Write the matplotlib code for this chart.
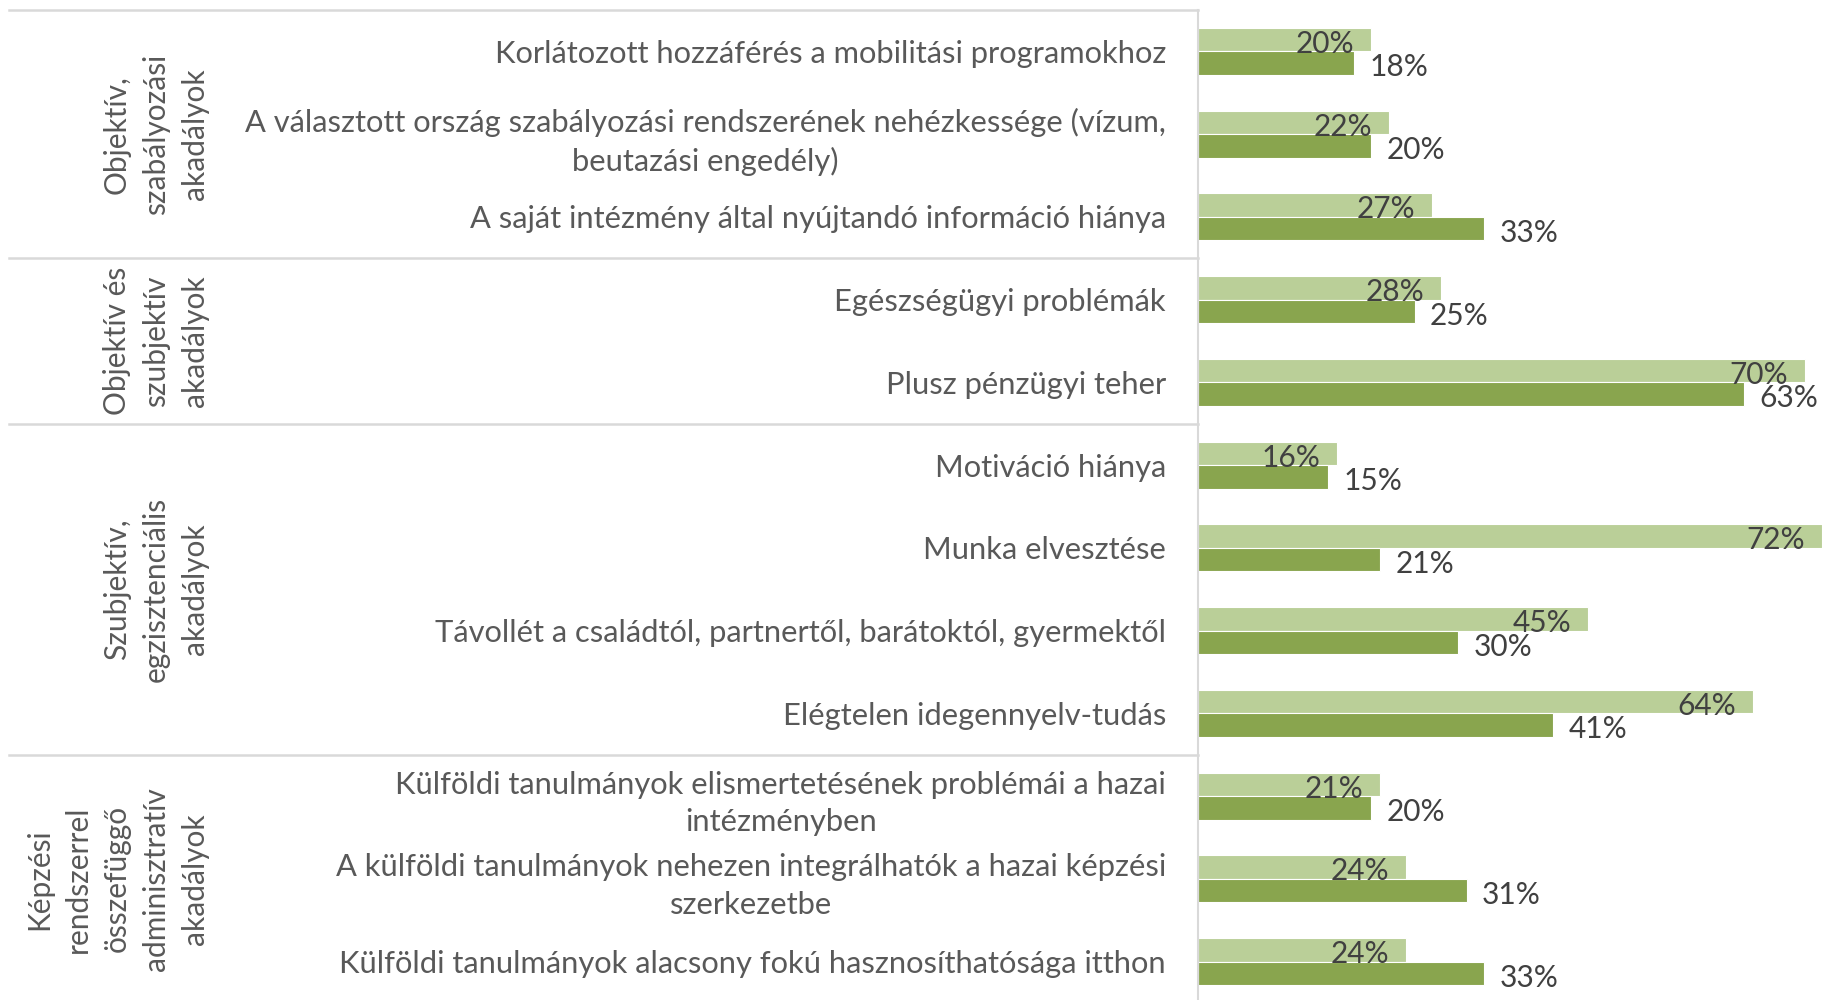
import numpy as np
import matplotlib
matplotlib.use('Agg')
import matplotlib.pyplot as plt
from matplotlib.transforms import blended_transform_factory

plt.rcParams['font.family'] = ['Lato', 'DejaVu Sans']

# kategóriák (felülről lefelé)
categories = [
    'Korlátozott hozzáférés a mobilitási programokhoz',
    'A választott ország szabályozási rendszerének nehézkessége (vízum,\nbeutazási engedély)',
    'A saját intézmény által nyújtandó információ hiánya',
    'Egészségügyi problémák',
    'Plusz pénzügyi teher',
    'Motiváció hiánya',
    'Munka elvesztése',
    'Távollét a családtól, partnertől, barátoktól, gyermektől',
    'Elégtelen idegennyelv-tudás',
    'Külföldi tanulmányok elismertetésének problémái a hazai\nintézményben',
    'A külföldi tanulmányok nehezen integrálhatók a hazai képzési\nszerkezetbe',
    'Külföldi tanulmányok alacsony fokú hasznosíthatósága itthon',
]
series_light = [20, 22, 27, 28, 70, 16, 72, 45, 64, 21, 24, 24]
series_dark = [18, 20, 33, 25, 63, 15, 21, 30, 41, 20, 31, 33]

groups = [
    'Objektív,\nszabályozási\nakadályok',
    'Objektív és\nszubjektív\nakadályok',
    'Szubjektív,\negzisztenciális\nakadályok',
    'Képzési\nrendszerrel\nösszefüggő\nadminisztratív\nakadályok',
]
group_sizes = [3, 2, 4, 3]

c_light = '#bacf98'
c_dark = '#89a54e'
c_grid = '#d9d9d9'
c_text = '#595959'
c_val = '#404040'

W, H = 1822, 1000
fig = plt.figure(figsize=(W / 100, H / 100), dpi=100)
ax_left = 1198 / W
ax = fig.add_axes([ax_left, -0.003, 1 - ax_left, 0.9899 + 0.003])

y = np.arange(len(categories))
h = 0.284
ax.barh(y - h / 2, series_light, height=h, color=c_light, edgecolor='white', linewidth=0.8)
ax.barh(y + h / 2, series_dark, height=h, color=c_dark, edgecolor='white', linewidth=0.8)

ax.set_xlim(0, 72)
ax.set_ylim(len(categories) - 0.5, -0.5)

# értékcímkék
for i in range(len(categories)):
    ax.annotate(f'{series_light[i]}%', (series_light[i], y[i]), xytext=(-12, -1),
                textcoords='offset points', ha='right', va='baseline',
                fontsize=21.5, color=c_val, clip_on=False)
    ax.annotate(f'{series_dark[i]}%', (series_dark[i], y[i] + h), xytext=(11, -1),
                textcoords='offset points', ha='left', va='baseline',
                fontsize=21.5, color=c_val, clip_on=False, annotation_clip=False)

ax.set_yticks(y)
ax.set_yticklabels(categories, fontsize=22.2, color=c_text, linespacing=1.42)
for lbl in ax.get_yticklabels():
    lbl.set_multialignment('center')
ax.tick_params(axis='y', length=0, pad=23)
ax.set_xticks([])
for s in ['top', 'right', 'bottom']:
    ax.spines[s].set_visible(False)
ax.spines['left'].set_color(c_grid)
ax.spines['left'].set_linewidth(1.5)

# csoportok elválasztó vonalai és feliratai
tr = blended_transform_factory(fig.transFigure, ax.transData)
start = -0.5
ax.plot([9 / W, ax_left], [start, start], color=c_grid, lw=1.8, transform=tr, clip_on=False)
for k, (name, n) in enumerate(zip(groups, group_sizes)):
    end = start + n
    if k < len(groups) - 1:
        ax.plot([9 / W, ax_left], [end, end], color=c_grid, lw=1.8, transform=tr, clip_on=False)
    ax.text(209 / W, (start + end) / 2, name, transform=tr, rotation=90,
            ha='right', va='center', multialignment='center',
            fontsize=21.5, color=c_text, linespacing=1.48)
    start = end

fig.savefig('out.png', dpi=100)
